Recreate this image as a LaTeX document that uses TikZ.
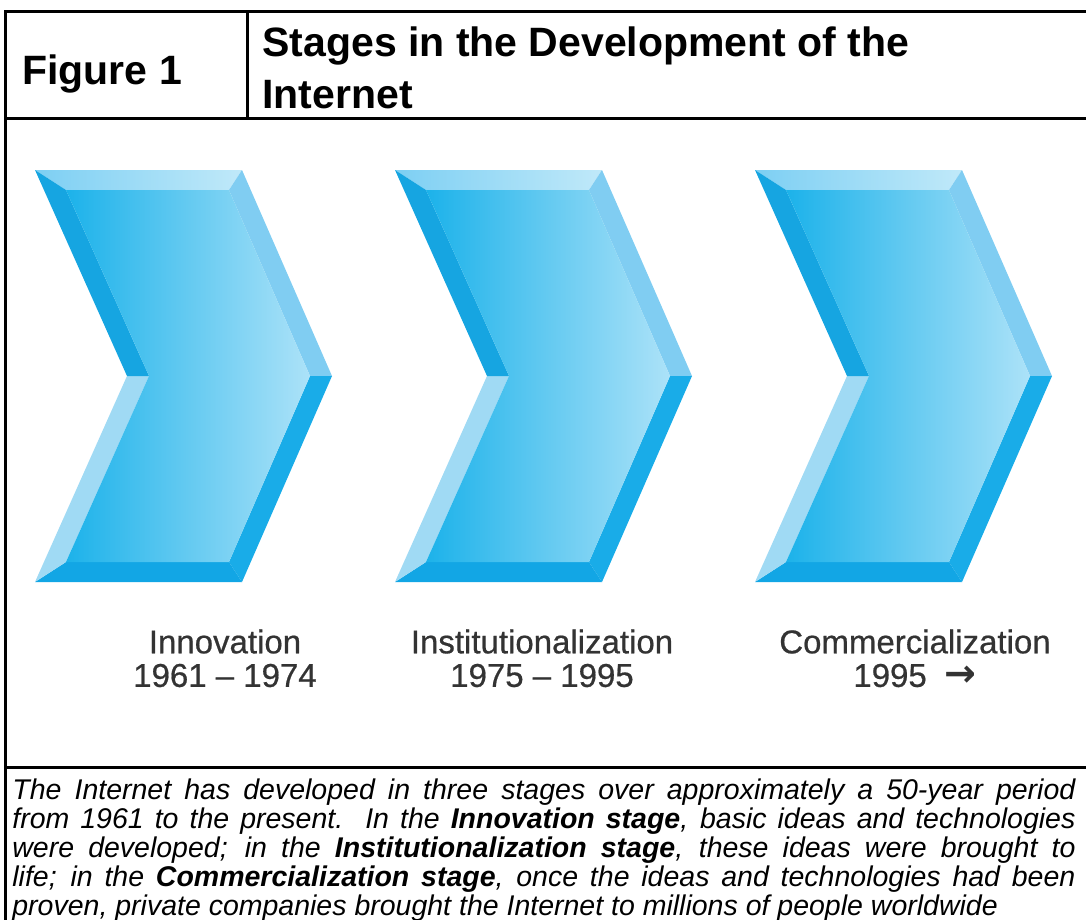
\documentclass[tikz,border=0pt]{standalone}
\usepackage{fontspec}
\setmainfont{Liberation Sans}
\newfontfamily\stagefont{Liberation Sans}[FakeBold=0.6]
\newfontfamily\arrowfont{DejaVu Sans Bold}
\usetikzlibrary{positioning}

\definecolor{faceL}{RGB}{28,178,234}
\definecolor{faceR}{RGB}{172,226,248}
\definecolor{bevTopL}{RGB}{125,207,243}
\definecolor{bevTopR}{RGB}{192,233,249}
\definecolor{bevLU}{RGB}{22,165,225}
\definecolor{bevLL}{RGB}{160,218,244}
\definecolor{bevRU}{RGB}{128,205,242}
\definecolor{bevRL}{RGB}{25,172,232}
\definecolor{bevBot}{RGB}{18,166,229}

\newcommand{\captionFont}{\fontsize{14.25}{14.6}\selectfont\lineskiplimit=-10pt\relax\itshape}

\tikzstyle{tableLine} = [line width=1.5pt, draw=black]
\tikzstyle{headText} = [font=\fontsize{20.5}{26}\selectfont\bfseries, inner sep=0pt, align=left]
\tikzstyle{stageText} = [font=\fontsize{16.5}{18}\selectfont\stagefont, text=black!80, align=center, inner sep=0pt]
\tikzstyle{captionText} = [font=\captionFont, inner sep=0pt, text width=531.5pt, align=justify]

% one bevelled chevron, #1 = left edge in px
\newcommand{\drawChevron}[1]{%
  \begin{scope}[shift={(#1,0)}]
    \shade[left color=bevTopL, right color=bevTopR] (0,170) -- (207,170) -- (194,190) -- (31,190) -- cycle;
    \fill[bevRU] (207,170) -- (297,376) -- (275,376) -- (194,190) -- cycle;
    \fill[bevRL] (297,376) -- (207,582) -- (194,562) -- (275,376) -- cycle;
    \fill[bevBot] (207,582) -- (0,582) -- (31,562) -- (194,562) -- cycle;
    \fill[bevLL] (0,582) -- (92,376) -- (114,376) -- (31,562) -- cycle;
    \fill[bevLU] (92,376) -- (0,170) -- (31,190) -- (114,376) -- cycle;
    \shade[left color=faceL, right color=faceR] (31,190) -- (194,190) -- (275,376) -- (194,562) -- (31,562) -- (114,376) -- cycle;
  \end{scope}}

\begin{document}
\begin{tikzpicture}[x=0.5pt, y=-0.5pt]
    \useasboundingbox (0,0) rectangle (1086,920);

    % table frame
    \draw [tableLine] (5,940) -- (5,12) -- (1100,12);
    \draw [tableLine] (5,119) -- (1100,119);
    \draw [tableLine] (247,12) -- (247,119);
    \draw [tableLine] (5,767) -- (1100,767);

    % header
    \node (fig) [headText, anchor=base west] at (22,85) {Figure 1};
    \node (title) [headText, anchor=north west] at (262,26) {Stages in the Development of the\\Internet};

    % stages
    \drawChevron{35}
    \drawChevron{395}
    \drawChevron{755}

    \node (innov) [stageText, anchor=north] at (225,629) {Innovation};
    \node (innovYears) [stageText, below=4.7pt of innov] {1961 – 1974};
    \node (instit) [stageText, anchor=north] at (542,629) {Institutionalization};
    \node (institYears) [stageText, below=4.7pt of instit] {1975 – 1995};
    \node (commerc) [stageText, anchor=north] at (915,629) {Commercialization};
    \node (commercYears) [stageText, below=4.7pt of commerc] {1995\hspace{9pt}{\fontsize{19}{19}\selectfont\arrowfont →}};

    % caption
    \node (caption) [captionText, anchor=north west] at (12,778) {%
      The Internet has developed in three stages over approximately a 50-year period\linebreak
      from 1961 to the present.\ \ In the \textbf{Innovation stage}, basic ideas and technologies\linebreak
      were developed; in the \textbf{Institutionalization stage}, these ideas were brought to\linebreak
      life; in the \textbf{Commercialization stage}, once the ideas and technologies had been\linebreak
      proven, private companies brought the Internet to millions of people worldwide};
\end{tikzpicture}
\end{document}
